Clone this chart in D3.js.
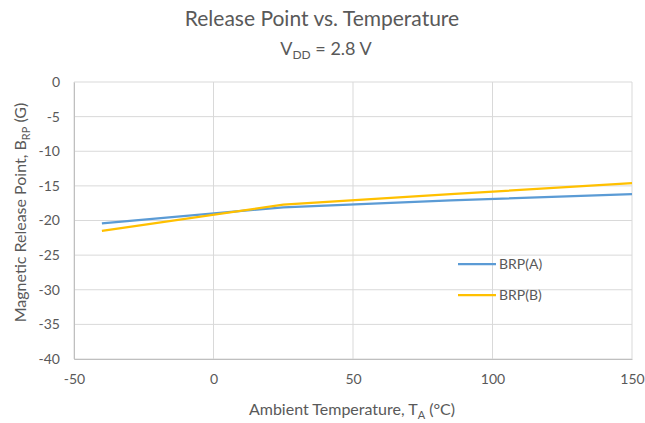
<!DOCTYPE html>
<html>
<head>
<meta charset="utf-8">
<script src="https://cdn.jsdelivr.net/npm/d3@7"></script>
<style>
  body { margin: 0; background: #fff; }
  text { font-family: Lato, "Open Sans", sans-serif; fill: #595959; }
</style>
</head>
<body>
<div id="chart"></div>
<script>
// data
var temps = [-40, 25, 85, 150];
var brpA = [-20.4, -18.1, -17.1, -16.2];
var brpB = [-21.5, -17.7, -16.2, -14.6];
var seriesNames = ["BRP(A)", "BRP(B)"];
var seriesColors = ["#5B9BD5", "#FFC000"];
var xTicks = [-50, 0, 50, 100, 150];
var yTicks = [0, -5, -10, -15, -20, -25, -30, -35, -40];

var W = 645, H = 423;
var margin = {top: 82, right: 13, bottom: 64, left: 74};
var width = W - margin.left - margin.right,
    height = H - margin.top - margin.bottom;

var svg = d3.select("#chart").append("svg")
    .attr("width", W).attr("height", H);

var g = svg.append("g").attr("transform", "translate(" + margin.left + "," + margin.top + ")");

var x = d3.scaleLinear().domain([-50, 150]).range([0, width]);
var y = d3.scaleLinear().domain([-40, 0]).range([height, 0]);

// gridlines
g.selectAll(".hgrid").data(yTicks).enter().append("line")
    .attr("x1", 0).attr("x2", width)
    .attr("y1", function(d){ return y(d); }).attr("y2", function(d){ return y(d); })
    .attr("stroke", "#D9D9D9").attr("stroke-width", 1);
g.selectAll(".vgrid").data(xTicks).enter().append("line")
    .attr("y1", 0).attr("y2", height)
    .attr("x1", function(d){ return x(d); }).attr("x2", function(d){ return x(d); })
    .attr("stroke", "#D9D9D9").attr("stroke-width", 1);

// axes - plain hyphen minus like the original
var fmt = function(d){ return String(d); };
var yAxis = g.append("g").call(d3.axisLeft(y).tickValues(yTicks).tickFormat(fmt).tickSize(0).tickPadding(14));
var xAxis = g.append("g").attr("transform", "translate(0," + height + ")")
    .call(d3.axisBottom(x).tickValues(xTicks).tickFormat(fmt).tickSize(0).tickPadding(15));
[yAxis, xAxis].forEach(function(a){
    a.select(".domain").attr("stroke", "#BFBFBF");
    a.selectAll("text").style("font-size", "14px").style("font-family", "Lato, sans-serif").attr("fill", "#595959");
});

// lines
var line = d3.line()
    .x(function(d){ return x(d[0]); })
    .y(function(d){ return y(d[1]); });
[brpA, brpB].forEach(function(vals, i){
    g.append("path")
        .datum(d3.zip(temps, vals))
        .attr("d", line)
        .attr("fill", "none")
        .attr("stroke", seriesColors[i])
        .attr("stroke-width", 2.25);
});

// legend
var legend = svg.append("g").attr("transform", "translate(458,264)");
seriesNames.forEach(function(name, i){
    var row = legend.append("g").attr("transform", "translate(0," + (i * 31) + ")");
    row.append("line").attr("x1", 0).attr("x2", 38).attr("y1", 0).attr("y2", 0)
        .attr("stroke", seriesColors[i]).attr("stroke-width", 2.25);
    row.append("text").attr("x", 41).attr("y", 5).style("font-size", "14px").text(name);
});

// titles
svg.append("text").attr("x", 322).attr("y", 26).attr("text-anchor", "middle")
    .style("font-size", "21px").text("Release Point vs. Temperature");
var sub = svg.append("text").attr("x", 326).attr("y", 55).attr("text-anchor", "middle")
    .style("font-size", "18px");
sub.append("tspan").text("V");
sub.append("tspan").attr("dy", 4).style("font-size", "12px").text("DD");
sub.append("tspan").attr("dy", -4).text(" = 2.8 V");

var xt = svg.append("text").attr("x", 352).attr("y", 415)
    .attr("text-anchor", "middle").style("font-size", "16px");
xt.append("tspan").text("Ambient Temperature, T");
xt.append("tspan").attr("dy", 4).style("font-size", "11px").text("A");
xt.append("tspan").attr("dy", -4).text(" (°C)");

var yt = svg.append("text").attr("transform", "translate(26," + (margin.top + height / 2 - 8) + ") rotate(-90)")
    .attr("text-anchor", "middle").style("font-size", "16px");
yt.append("tspan").text("Magnetic Release Point, B");
yt.append("tspan").attr("dy", 4).style("font-size", "11px").text("RP");
yt.append("tspan").attr("dy", -4).text(" (G)");
</script>
</body>
</html>
